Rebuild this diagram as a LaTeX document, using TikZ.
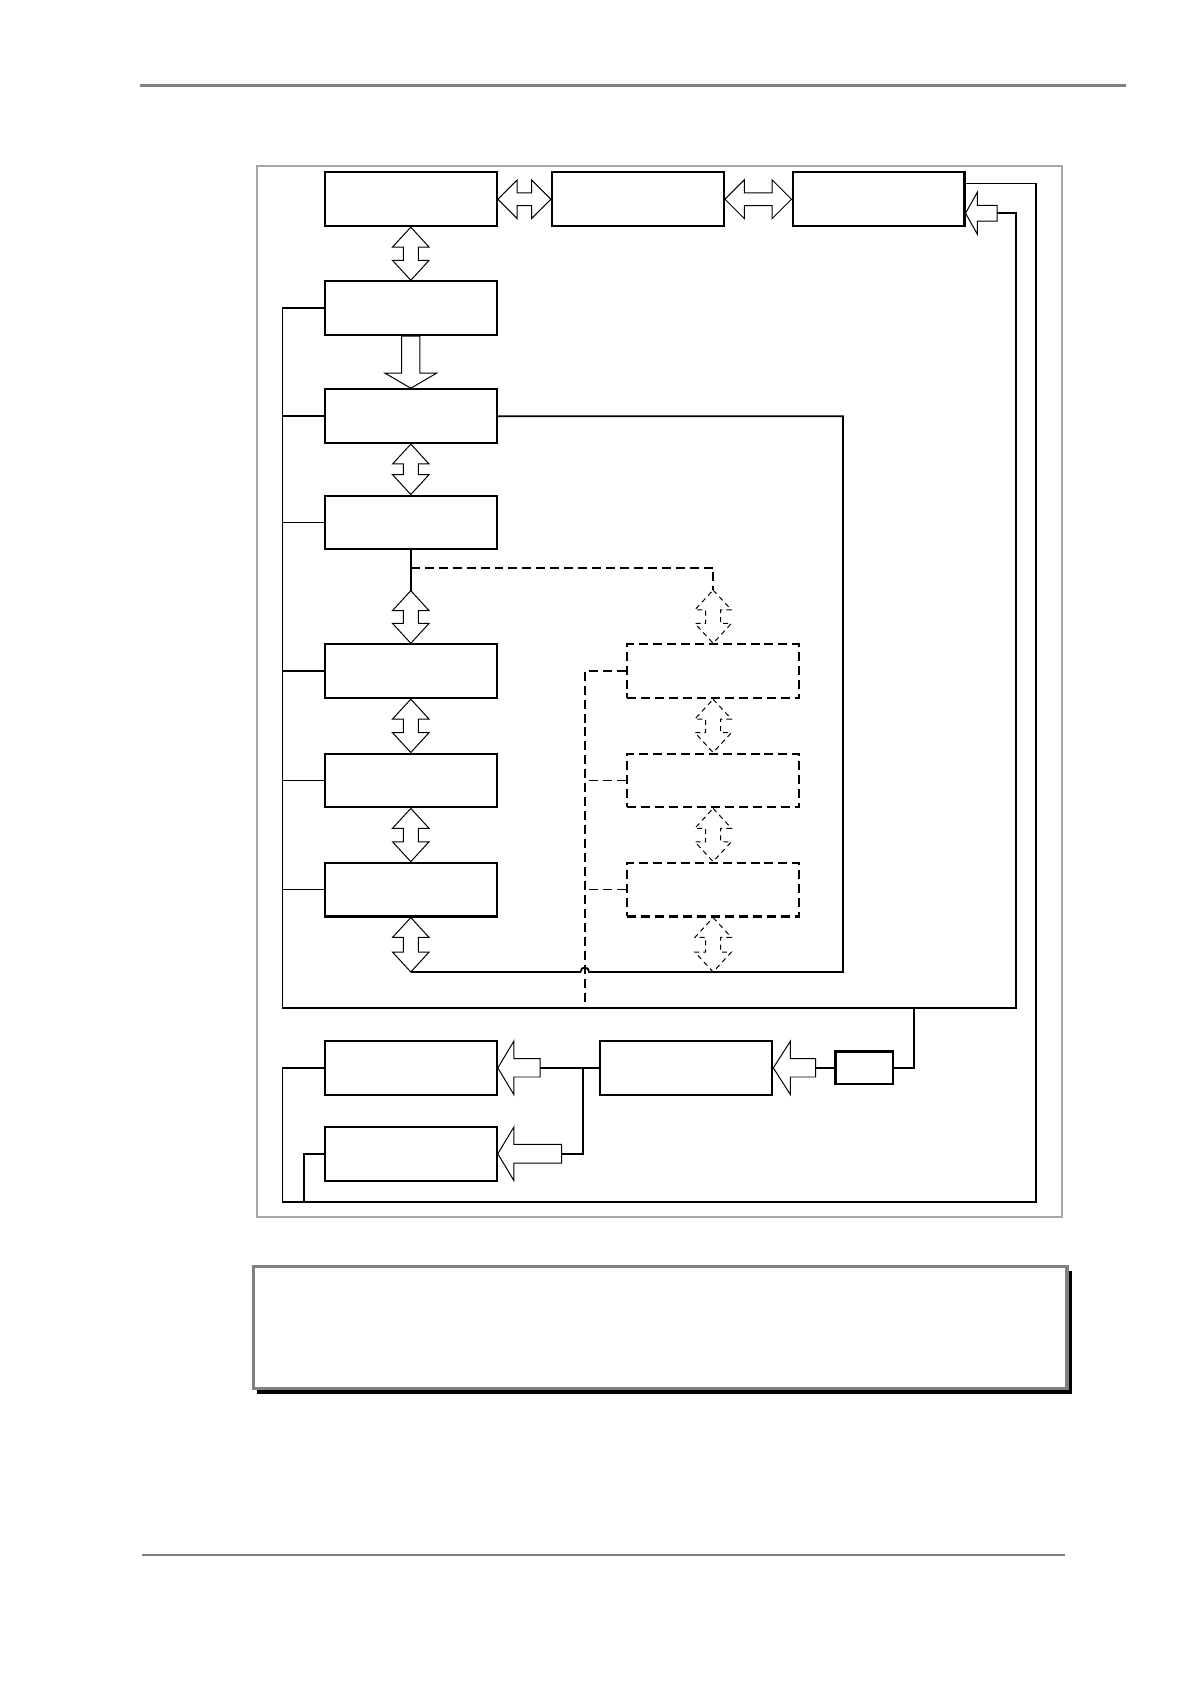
\documentclass[tikz,border=0pt]{standalone}
\usetikzlibrary{calc}
\definecolor{rule-gray}{HTML}{808080}
\definecolor{frame-gray}{HTML}{A6A6A6}
\tikzset{
  blk/.style={draw, line width=1.1pt, fill=white, inner sep=0pt,
    minimum width=3.03cm, minimum height=0.947cm},
  dblk/.style={blk, dash pattern=on 4.5pt off 2.5pt},
  wire/.style={line width=0.9pt},
  thin-wire/.style={line width=0.55pt},
  dash-wire/.style={line width=0.9pt, dash pattern=on 4.5pt off 2.5pt},
  dash-arrow/.style={dash pattern=on 2.5pt off 2pt},
  block-arrow/.style={draw, line width=0.5pt, fill=white, line join=miter},
  % double block arrow, top to bottom
  vdbl/.style={block-arrow, to path={
    (\tikztostart) -- ($(\tikztostart)+(17,18.5)$) -- ($(\tikztostart)+(7,18.5)$)
    -- ($(\tikztotarget)+(7,-18.5)$) -- ($(\tikztotarget)+(17,-18.5)$)
    -- (\tikztotarget) -- ($(\tikztotarget)+(-17,-18.5)$) -- ($(\tikztotarget)+(-7,-18.5)$)
    -- ($(\tikztostart)+(-7,18.5)$) -- ($(\tikztostart)+(-17,18.5)$) -- cycle}},
  % double block arrow, left to right
  hdbl/.style={block-arrow, to path={
    (\tikztostart) -- ($(\tikztostart)+(18,-18)$) -- ($(\tikztostart)+(18,-6)$)
    -- ($(\tikztotarget)+(-18,-6)$) -- ($(\tikztotarget)+(-18,-18)$)
    -- (\tikztotarget) -- ($(\tikztotarget)+(-18,18)$) -- ($(\tikztotarget)+(-18,6)$)
    -- ($(\tikztostart)+(18,6)$) -- ($(\tikztostart)+(18,18)$) -- cycle}},
  % single block arrow pointing down
  vsgl/.style={block-arrow, to path={
    ($(\tikztostart)+(-8.5,0)$) -- ($(\tikztotarget)+(-8.5,-14)$) -- ($(\tikztotarget)+(-24,-14)$)
    -- (\tikztotarget) -- ($(\tikztotarget)+(24,-14)$) -- ($(\tikztotarget)+(8.5,-14)$)
    -- ($(\tikztostart)+(8.5,0)$) -- cycle}},
  % single block arrow pointing left: head half, head length, shaft half
  lsgl/.style n args={3}{block-arrow, to path={
    ($(\tikztostart)+(0,-#3)$) -- ($(\tikztotarget)+(#2,-#3)$) -- ($(\tikztotarget)+(#2,-#1)$)
    -- (\tikztotarget) -- ($(\tikztotarget)+(#2,#1)$) -- ($(\tikztotarget)+(#2,#3)$)
    -- ($(\tikztostart)+(0,#3)$) -- cycle}}
}

\begin{document}
\begin{tikzpicture}[x=0.018936cm, y=-0.018936cm]
  \fill[white] (0,0) rectangle (1109,1568);

  % ---- page rules and frame ----
  \draw[rule-gray, line width=1.35pt] (130,79.5) -- (1048,79.5);
  \draw[rule-gray, line width=1.35pt] (132,1448) -- (992,1448);
  \draw[frame-gray, line width=0.8pt] (239.5,154.5) rectangle (989,1133);

  % ---- top row ----
  \node[blk] (A) at (382.5,185.5) {};
  \node[blk] (B) at (594,185.5) {};
  \node[blk] (C) at (818,185.5) {};

  % ---- left column ----
  \node[blk] (D) at (382.5,287) {};
  \node[blk] (E) at (382.5,387.5) {};
  \node[blk] (F) at (382.5,486.5) {};
  \node[blk] (G) at (382.5,625) {};
  \node[blk] (H) at (382.5,726.7) {};
  \node[blk] (I) at (382.5,828.3) {};

  % ---- optional (dashed) column ----
  \node[dblk] (J) at (664,625) {};
  \node[dblk] (K) at (664,726.7) {};
  \node[dblk] (L) at (664,828.3) {};

  % ---- lower group ----
  \node[blk] (M) at (382.5,994.3) {};
  \node[blk] (N) at (382.5,1074.3) {};
  \node[blk] (O) at (639,994.3) {};
  \node[blk, minimum width=1.013cm, minimum height=0.576cm] (P) at (804.7,994.3) {};

  % ---- helper points ----
  \coordinate (c-tip)    at ($(C.south east)+(0,-13)$);
  \coordinate (c-tail)   at ($(C.south east)+(29.5,-13)$);
  \coordinate (c-out)    at ($(C.north east)+(0,11.3)$);
  \coordinate (bus-low)  at (263,938.2);
  \coordinate (bus-right) at (946,938.2);
  \coordinate (f-join)   at (382.5,528.5);
  \coordinate (f-tip)    at (382.5,550);
  \coordinate (j-tip)    at (664,549.4);
  \coordinate (i-tip)    at (382.5,905);
  \coordinate (l-tip)    at (664,905);
  \coordinate (ret)      at (785,905);
  \coordinate (d-bus)    at (544.4,938.2);
  \coordinate (p-drop)   at (850.7,938.2);
  \coordinate (o-tail)   at (759.4,994.3);
  \coordinate (o-join)   at (542.5,994.3);
  \coordinate (m-tail)   at (502.8,994.3);
  \coordinate (n-tail)   at (523,1074.3);
  \coordinate (loop-low) at (263,1118.9);
  \coordinate (loop-right) at (964.3,1118.9);
  \coordinate (n-low)    at (283,1118.9);

  % ---- block arrows ----
  \draw[hdbl] (A.east) to (B.west);
  \draw[hdbl] (B.east) to (C.west);
  \draw[vdbl] (A.south) to (D.north);
  \draw[vsgl] (D.south) to (E.north);
  \draw[vdbl] (E.south) to (F.north);
  \draw[vdbl] (f-tip) to (G.north);
  \draw[vdbl] (G.south) to (H.north);
  \draw[vdbl] (H.south) to (I.north);
  \draw[vdbl] (I.south) to (i-tip);
  \draw[vdbl, dash-arrow] (j-tip) to (J.north);
  \draw[vdbl, dash-arrow] (J.south) to (K.north);
  \draw[vdbl, dash-arrow] (K.south) to (L.north);
  \draw[vdbl, dash-arrow] (L.south) to (l-tip);
  \draw[lsgl={19.6}{11}{7.3}] (c-tail) to (c-tip);
  \draw[lsgl={25}{16}{8.5}] (o-tail) to (O.east);
  \draw[lsgl={25}{15}{8.5}] (m-tail) to (M.east);
  \draw[lsgl={25}{15}{8.8}] (n-tail) to (N.east);

  % ---- left bus ----
  \draw[wire] (D.west) -| (bus-low) -- (bus-right) |- (c-tail);
  \draw[wire] (E.west) -- (E.west -| bus-low);
  \draw[thin-wire] (F.west) -- (F.west -| bus-low);
  \draw[wire] (G.west) -- (G.west -| bus-low);
  \draw[thin-wire] (H.west) -- (H.west -| bus-low);
  \draw[wire] (I.west) -- (I.west -| bus-low);

  % ---- return line with hop ----
  \draw[wire] (E.east) -| (ret) -- (548.5,905)
    .. controls (548.5,899.5) and (540.5,899.5) .. (540.5,905) -- (i-tip);

  % ---- F branch ----
  \draw[wire] (F.south) -- (f-tip);
  \draw[dash-wire] (f-join) -| (j-tip);
  \draw[dash-wire] (J.west) -| (d-bus);
  \draw[dash-wire] (K.west) -- (K.west -| d-bus);
  \draw[dash-wire] (L.west) -- (L.west -| d-bus);

  % ---- lower group wiring ----
  \draw[wire] (p-drop) |- (P.east);
  \draw[wire] (P.west) -- (o-tail);
  \draw[wire] (O.west) -- (m-tail);
  \draw[wire] (o-join) |- (n-tail);
  \draw[wire] (M.west) -| (loop-low) -- (loop-right) |- (c-out);
  \draw[wire] (N.west) -| (n-low);

  % ---- caption box ----
  \fill[black] (239.5,1183) rectangle (998,1297.5);
  \draw[rule-gray, line width=1.6pt, fill=white] (236,1179.5) rectangle (993.5,1292.5);
\end{tikzpicture}
\end{document}
